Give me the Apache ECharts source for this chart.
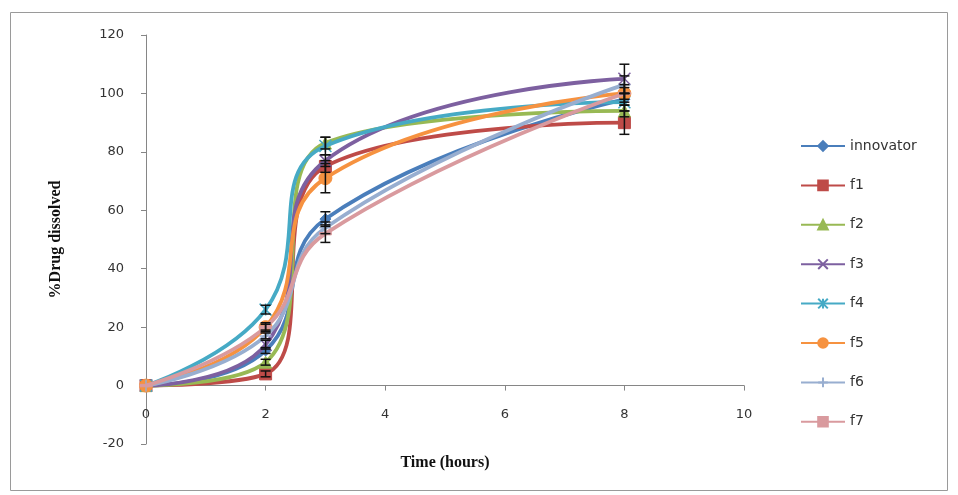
<!DOCTYPE html>
<html>
<head>
<meta charset="utf-8">
<script src="https://cdn.jsdelivr.net/npm/echarts@6/dist/echarts.min.js"></script>
<style>
  html, body { margin: 0; padding: 0; background: #fff; }
  #chart { width: 958px; height: 495px; }
</style>
</head>
<body>
<div id="chart"></div>
<script>
// sampling times (hours)
const times = [0, 2, 3, 8]

const seriesNames = ['innovator', 'f1', 'f2', 'f3', 'f4', 'f5', 'f6', 'f7']

// % drug dissolved per formulation
const innovator = [0, 12, 57, 98]
const f1 = [0, 4, 75, 90]
const f2 = [0, 8, 83, 94]
const f3 = [0, 14, 77, 105]
const f4 = [0, 26, 82, 97]
const f5 = [0, 20, 71, 100]
const f6 = [0, 17, 54, 103]
const f7 = [0, 20, 52, 100]

// standard deviations (error bars)
const innovatorErr = [0, 1, 2.5, 2]
const f1Err = [0, 1, 2, 4]
const f2Err = [0, 1, 2, 2]
const f3Err = [0, 1.5, 2, 5]
const f4Err = [0, 1.5, 3, 3]
const f5Err = [0, 1.5, 5, 3]
const f6Err = [0, 1, 2, 3]
const f7Err = [0, 1, 3, 2]

const yTicks = [-20, 0, 20, 40, 60, 80, 100, 120]
const xTicks = [0, 2, 4, 6, 8, 10]

const values = [innovator, f1, f2, f3, f4, f5, f6, f7]
const errors = [innovatorErr, f1Err, f2Err, f3Err, f4Err, f5Err, f6Err, f7Err]
const colors = ['#4a7ebb', '#be4b48', '#98b954', '#7d60a0', '#46aac5', '#f69240', '#98aed0', '#d99a9e']
const symbols = [
  'diamond',
  'rect',
  'triangle',
  'path://M0,0 L10,10 M10,0 L0,10',
  'path://M0,0 L10,10 M10,0 L0,10 M5,0 L5,10',
  'circle',
  'path://M0,5 L10,5 M5,0 L5,10',
  'path://M0,4 L10,4 L10,6 L0,6 Z'
]
const symbolSizes = [11, 12, 12, 12, 12, 13, 12, 12]
const strokeSymbol = [false, false, false, true, true, false, true, false]

const chart = echarts.init(document.getElementById('chart'))

const lineSeries = seriesNames.map((name, i) => ({
  name,
  type: 'line',
  smooth: 0.45,
  data: times.map((t, j) => [t, values[i][j]]),
  symbol: symbols[i],
  symbolSize: symbolSizes[i],
  symbolKeepAspect: true,
  showAllSymbol: true,
  lineStyle: { color: colors[i], width: 3.8 },
  itemStyle: strokeSymbol[i]
    ? { color: 'transparent', borderColor: colors[i], borderWidth: 1.5 }
    : { color: colors[i], borderColor: colors[i], borderWidth: 1 },
  emphasis: { disabled: true },
  z: 2 + i
}))

const errData = []
values.forEach((vals, i) => {
  times.forEach((t, j) => {
    if (errors[i][j] > 0) errData.push([t, vals[j] - errors[i][j], vals[j] + errors[i][j]])
  })
})

const errorSeries = {
  type: 'custom',
  data: errData,
  z: 20,
  silent: true,
  renderItem(params, api) {
    const x = api.value(0)
    const lo = api.coord([x, api.value(1)])
    const hi = api.coord([x, api.value(2)])
    const w = 5
    const style = { stroke: '#111', lineWidth: 1.5, fill: null }
    return {
      type: 'group',
      children: [
        { type: 'line', shape: { x1: lo[0], y1: lo[1], x2: hi[0], y2: hi[1] }, style },
        { type: 'line', shape: { x1: lo[0] - w, y1: lo[1], x2: lo[0] + w, y2: lo[1] }, style },
        { type: 'line', shape: { x1: hi[0] - w, y1: hi[1], x2: hi[0] + w, y2: hi[1] }, style }
      ]
    }
  }
}

chart.setOption({
  animation: false,
  grid: { left: 146, right: 214, top: 35, bottom: 51, outerBoundsMode: 'none', containLabel: false },
  graphic: [{
    type: 'rect',
    shape: { x: 10.5, y: 12.5, width: 937, height: 478 },
    style: { fill: null, stroke: '#9a9a9a', lineWidth: 1 },
    silent: true
  }],
  legend: {
    orient: 'vertical',
    left: 795,
    top: 134,
    itemWidth: 44,
    itemHeight: 12,
    itemGap: 25.4,
    data: seriesNames,
    textStyle: { fontFamily: 'DejaVu Sans', fontSize: 14, color: '#333' }
  },
  xAxis: {
    type: 'value',
    min: 0,
    max: 10,
    interval: 2,
    name: 'Time (hours)',
    nameLocation: 'middle',
    nameGap: 11,
    nameMoveOverlap: false,
    nameTextStyle: { fontFamily: 'Liberation Serif', fontWeight: 'bold', fontSize: 16, color: '#111' },
    axisLine: { show: true, onZero: true, lineStyle: { color: '#868686', width: 1 } },
    axisTick: { show: true, length: 5, lineStyle: { color: '#868686' } },
    axisLabel: {
      margin: -36,
      fontFamily: 'DejaVu Sans',
      fontSize: 13,
      color: '#333',
      formatter: v => (xTicks.includes(v) ? String(v) : '')
    },
    splitLine: { show: false }
  },
  yAxis: {
    type: 'value',
    min: -20,
    max: 120,
    interval: 20,
    name: '%Drug dissolved',
    nameLocation: 'middle',
    nameGap: 82,
    nameTextStyle: { fontFamily: 'Liberation Serif', fontWeight: 'bold', fontSize: 16, color: '#111' },
    axisLine: { show: true, onZero: false, lineStyle: { color: '#868686', width: 1 } },
    axisTick: { show: true, length: 5, lineStyle: { color: '#868686' } },
    axisLabel: {
      margin: 22,
      fontFamily: 'DejaVu Sans',
      fontSize: 13,
      color: '#333',
      formatter: v => (yTicks.includes(v) ? String(v) : '')
    },
    splitLine: { show: false }
  },
  series: [...lineSeries, errorSeries]
})
</script>
</body>
</html>
